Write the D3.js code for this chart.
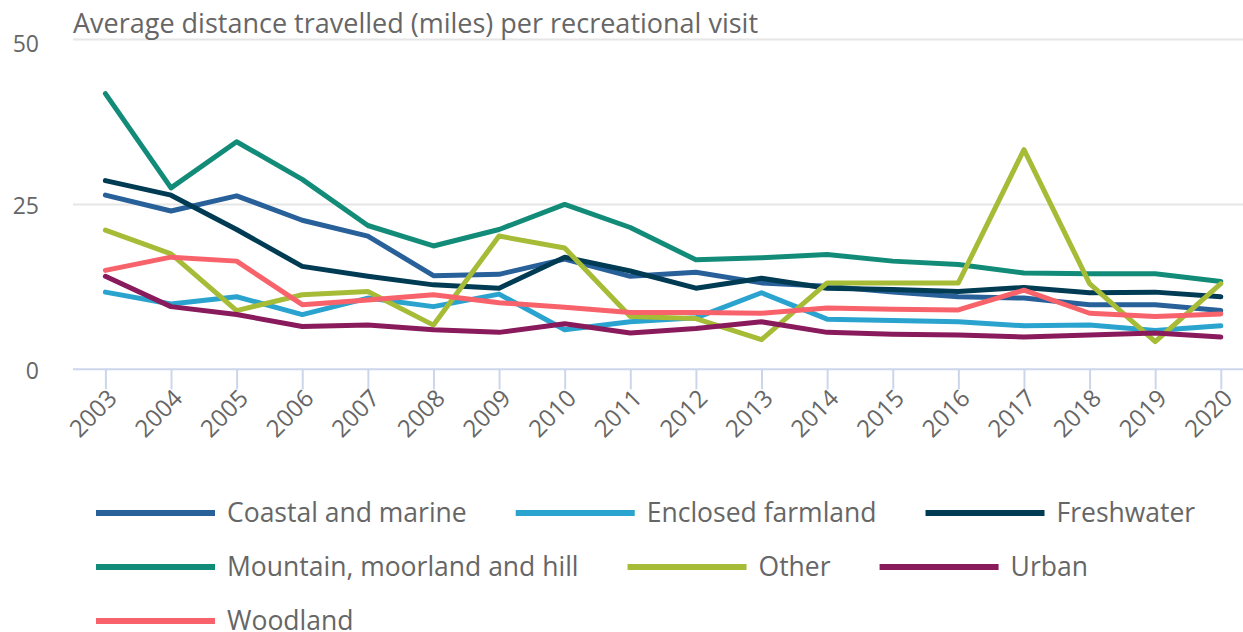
<!DOCTYPE html>
<html>
<head>
<meta charset="utf-8">
<script src="https://cdn.jsdelivr.net/npm/d3@7"></script>
<style>
  html, body { margin: 0; padding: 0; background: #fff; }
  svg { display: block; font-family: "Open Sans", sans-serif; }
</style>
</head>
<body>
<svg id="chart" width="1243" height="632"></svg>
<script>
const years = ["2003","2004","2005","2006","2007","2008","2009","2010","2011","2012","2013","2014","2015","2016","2017","2018","2019","2020"];
const yTicks = [0, 25, 50];
const titleText = "Average distance travelled (miles) per recreational visit";

const seriesNames = ["Coastal and marine","Enclosed farmland","Freshwater","Mountain, moorland and hill","Other","Urban","Woodland"];
const seriesColors = ["#28609a","#2aa3cf","#003b54","#128c78","#a6bc37","#891a5b","#f8636b"];

const coastal   = [26.4, 24.0, 26.3, 22.6, 20.2, 14.2, 14.4, 16.7, 14.1, 14.7, 13.1, 12.6, 11.7, 11.0, 10.8, 9.8, 9.8, 8.9];
const enclosed  = [11.7, 9.9, 11.0, 8.3, 10.8, 9.5, 11.4, 6.0, 7.2, 7.8, 11.6, 7.6, 7.4, 7.2, 6.6, 6.7, 5.9, 6.6];
const fresh     = [28.6, 26.4, 21.2, 15.6, 14.1, 12.8, 12.3, 17.0, 14.9, 12.3, 13.8, 12.3, 12.1, 11.8, 12.4, 11.6, 11.7, 11.0];
const mountain  = [41.8, 27.5, 34.5, 28.8, 21.8, 18.7, 21.2, 25.0, 21.5, 16.6, 16.9, 17.4, 16.4, 15.9, 14.6, 14.5, 14.5, 13.3];
const other     = [21.1, 17.5, 8.9, 11.3, 11.8, 6.7, 20.2, 18.4, 8.0, 7.7, 4.5, 13.1, 13.1, 13.1, 33.3, 13.0, 4.2, 13.0];
const urban     = [14.1, 9.5, 8.3, 6.5, 6.7, 6.0, 5.6, 6.9, 5.5, 6.2, 7.2, 5.6, 5.3, 5.2, 4.9, 5.2, 5.5, 4.9];
const woodland  = [15.0, 17.0, 16.4, 9.8, 10.5, 11.3, 10.1, 9.4, 8.6, 8.6, 8.5, 9.3, 9.1, 9.0, 12.0, 8.5, 8.0, 8.4];

const seriesValues = [coastal, enclosed, fresh, mountain, other, urban, woodland];

const svg = d3.select("#chart");
const plotLeft = 73, plotRight = 1243;
const x = d3.scalePoint().domain(years).range([105.4, 1220.8]);
const y = d3.scaleLinear().domain([0, 50]).range([369.3, 39.5]);

// gridlines
svg.append("g").selectAll("line")
  .data(yTicks.filter(d => d !== 0))
  .join("line")
  .attr("x1", plotLeft).attr("x2", plotRight)
  .attr("y1", d => y(d)).attr("y2", d => y(d))
  .attr("stroke", "#e6e6e6").attr("stroke-width", 2);

// y labels
svg.append("g").selectAll("text")
  .data(yTicks)
  .join("text")
  .attr("x", 39)
  .attr("y", d => y(d) + (d === 50 ? 12 : 10))
  .attr("text-anchor", "end")
  .attr("font-size", 23)
  .attr("fill", "#666")
  .text(d => d);

// title
svg.append("text")
  .attr("x", plotLeft).attr("y", 33)
  .attr("font-size", 27)
  .attr("fill", "#666")
  .text(titleText);

// x axis
const xAxis = d3.axisBottom(x).tickSize(20).tickPadding(4);
const gx = svg.append("g").attr("transform", `translate(0,${y(0)})`).call(xAxis);
gx.select(".domain").remove();
gx.selectAll(".tick line").attr("stroke", "#ccd6eb").attr("stroke-width", 2);
gx.selectAll(".tick text")
  .attr("font-size", 24)
  .attr("font-family", "Open Sans, sans-serif")
  .attr("fill", "#666")
  .attr("text-anchor", "end")
  .attr("dy", null)
  .attr("transform", "translate(8,26) rotate(-45)")
  .attr("x", 0).attr("y", 0)
  .attr("dominant-baseline", "middle");
svg.append("line")
  .attr("x1", plotLeft).attr("x2", plotRight)
  .attr("y1", y(0)).attr("y2", y(0))
  .attr("stroke", "#ccd6eb").attr("stroke-width", 2);

// lines
const line = d3.line().x((d, i) => x(years[i])).y(d => y(d));
svg.append("g").selectAll("path")
  .data(seriesValues)
  .join("path")
  .attr("d", d => line(d))
  .attr("fill", "none")
  .attr("stroke", (d, i) => seriesColors[i])
  .attr("stroke-width", 5)
  .attr("stroke-linejoin", "round")
  .attr("stroke-linecap", "round");

// legend (flow layout)
const legend = svg.append("g");
const startX = 96, symW = 119, textGap = 12, itemGap = 49, rowH = 54, firstRowY = 513;
let cx = startX, cy = firstRowY;
seriesNames.forEach((name, i) => {
  const g = legend.append("g");
  const t = g.append("text")
    .attr("font-size", 26.5).attr("fill", "#666")
    .attr("y", 9).attr("x", symW + textGap)
    .text(name);
  const w = symW + textGap + t.node().getComputedTextLength();
  if (cx !== startX && cx + w > plotRight - 20) { cx = startX; cy += rowH; }
  g.attr("transform", `translate(${cx},${cy})`);
  g.insert("line", "text")
    .attr("x1", 0).attr("x2", symW).attr("y1", 0).attr("y2", 0)
    .attr("stroke", seriesColors[i]).attr("stroke-width", 6);
  cx += w + itemGap;
});
</script>
</body>
</html>
